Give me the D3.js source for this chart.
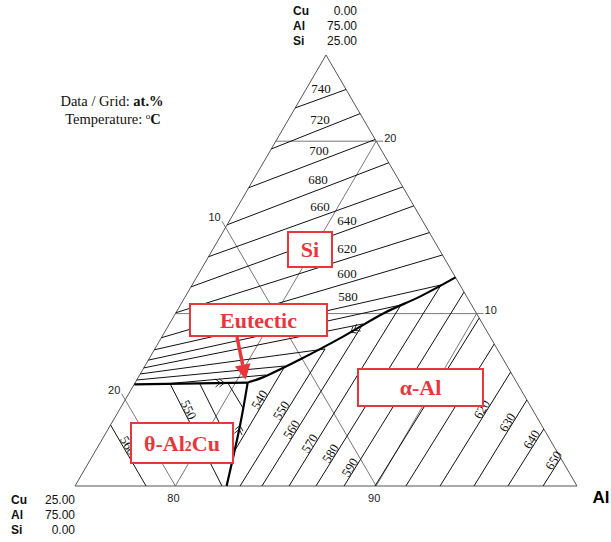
<!DOCTYPE html>
<html>
<head>
<meta charset="utf-8">
<script src="https://cdn.jsdelivr.net/npm/d3@7"></script>
<style>
  body { margin: 0; background: #fff; }
  svg { display: block; }
  .sans { font-family: "Liberation Sans", Arial, sans-serif; }
  .serif { font-family: "Liberation Serif", "Times New Roman", serif; }
</style>
</head>
<body>
<svg id="chart" width="611" height="542"></svg>
<script>
// compositions are at.% written as [Cu, Si]; Al is the rest (75..100)

const cornerTop = [['Cu', '0.00'], ['Al', '75.00'], ['Si', '25.00']];
const cornerLeft = [['Cu', '25.00'], ['Al', '75.00'], ['Si', '0.00']];

const siTicks = [10, 20];
const cuTicks = [10, 20];
const alTicks = [80, 90];

// thick two-phase valleys
const valleyAlSi = [[0, 12.1], [2.3, 11.0], [4.55, 10.05], [7.35, 8.65], [10.1, 7.35], [12.5, 6.3], [13.4, 6.0]];
const valleySiTheta = [[19.1, 5.9], [13.4, 6.0]];
const valleyAlTheta = [[13.4, 6.0], [15.0, 3.55], [17.45, 0]];

// liquidus isotherms, deg C
const siIsotherms = [
  { t: 740, pts: [[3.07, 21.93], [0, 23.0]] },
  { t: 720, pts: [[5.45, 19.55], [0, 21.6]] },
  { t: 700, pts: [[7.7, 17.3], [0, 20.1]] },
  { t: 680, pts: [[9.85, 15.15], [0, 18.75]] },
  { t: 660, pts: [[11.7, 13.3], [0, 17.35]] },
  { t: 640, pts: [[13.45, 11.55], [0, 16.25]] },
  { t: 620, pts: [[14.95, 10.05], [0, 14.7]] },
  { t: 600, pts: [[16.4, 8.6], [0, 13.4]] },
  { t: 580, pts: [[17.1, 7.9], [0.94, 11.66]] },
  { t: 570, pts: [[17.7, 7.3], [3.52, 10.5]] },
  { t: 560, pts: [[18.15, 6.85], [5.96, 9.4]] },
  { t: 550, pts: [[18.5, 6.5], [8.57, 7.95]] },
  { t: 540, pts: [[18.85, 6.15], [11.06, 6.96]] },
  { t: 530, pts: [[17.56, 5.92], [12.27, 6.44]] },
];
const alIsotherms = [
  { t: 540, pts: [[16.1, 1.97], [11.06, 6.96]] },
  { t: 550, pts: [[16.78, 0], [8.57, 7.95]] },
  { t: 560, pts: [[15.69, 0], [5.96, 9.4]] },
  { t: 570, pts: [[14.34, 0], [3.52, 10.5]] },
  { t: 580, pts: [[13.0, 0], [0.94, 11.66]] },
  { t: 590, pts: [[11.6, 0], [0, 11.25]] },
  { t: 600, pts: [[10.06, 0], [0, 9.74]] },
  { t: 610, pts: [[8.52, 0], [0, 8.24]] },
  { t: 620, pts: [[6.82, 0], [0, 6.61]] },
  { t: 630, pts: [[5.13, 0], [0, 4.99]] },
  { t: 640, pts: [[3.44, 0], [0, 3.31]] },
  { t: 650, pts: [[1.69, 0], [0, 1.62]] },
];
const thetaIsotherms = [
  { t: 560, pts: [[21.46, 3.54], [21.46, 0]] },
  { t: 550, pts: [[17.3, 5.92], [17.68, 0]] },
  { t: 540, pts: [[15.82, 5.92], [16.1, 1.97]] },
  { t: 530, pts: [[14.4, 5.97], [14.37, 4.52]] },
];

// where the numbers sit (screen layout only)
const siLabelX = { 740: 321, 720: 320, 700: 319, 680: 318, 660: 320, 640: 347, 620: 347, 600: 347, 580: 348 };
const alLabelY = { 540: 402, 550: 413, 560: 432, 570: 446, 580: 456, 590: 470, 620: 412, 630: 425, 640: 442, 650: 463 };
const thetaLabelY = { 560: 448, 550: 412 };

const boxes = [
  { x: 288, y: 232, w: 44, h: 35 },
  { x: 190, y: 304, w: 137, h: 32 },
  { x: 358, y: 369, w: 125, h: 37 },
  { x: 131, y: 423, w: 102, h: 40 },
];

const RED = '#e8373c';

const svg = d3.select('#chart');

const xAl = d3.scaleLinear().domain([75, 100]).range([75, 577]);
const ySi = d3.scaleLinear().domain([0, 25]).range([486, 55]);

// ternary -> screen (Si up, Al to the right)
function proj(c) {
  const cu = c[0];
  const si = c[1];
  const al = 100 - cu - si;
  return [xAl(al + si / 2), ySi(si)];
}

const line = d3.line()
  .x((d) => proj(d)[0])
  .y((d) => proj(d)[1])
  .curve(d3.curveCatmullRom);

function unit(a, b) {
  const dx = b[0] - a[0];
  const dy = b[1] - a[1];
  const l = Math.hypot(dx, dy);
  return [dx / l, dy / l];
}

function atY(pts, y) {
  const p = pts.map(proj);
  for (let i = 0; i < p.length - 1; i += 1) {
    const [a, b] = [p[i], p[i + 1]];
    if ((y - a[1]) * (y - b[1]) <= 0) {
      const f = (y - a[1]) / (b[1] - a[1]);
      return { x: a[0] + f * (b[0] - a[0]), y, u: unit(a, b) };
    }
  }
  return null;
}

function atX(pts, x) {
  const p = pts.map(proj);
  for (let i = 0; i < p.length - 1; i += 1) {
    const [a, b] = [p[i], p[i + 1]];
    if ((x - a[0]) * (x - b[0]) <= 0) {
      const f = (x - a[0]) / (b[0] - a[0]);
      return { x, y: a[1] + f * (b[1] - a[1]) };
    }
  }
  return null;
}

// grid
const gGrid = svg.append('g').attr('stroke', '#6a6a6a').attr('stroke-width', 0.9).attr('fill', 'none');
const gTick = svg.append('g').attr('class', 'sans').attr('font-size', 11).attr('fill', '#222');

siTicks.forEach((v) => {
  const a = proj([25 - v, v]);
  const b = proj([0, v]);
  gGrid.append('line').attr('x1', a[0]).attr('y1', a[1]).attr('x2', b[0] + 7).attr('y2', b[1]);
  gTick.append('text').attr('x', b[0] + 8).attr('y', b[1] - 3).attr('dy', '0.35em').text(v);
});
cuTicks.forEach((v) => {
  const a = proj([v, 25 - v]);
  const b = proj([v, 0]);
  const u = unit(b, a);
  gGrid.append('line').attr('x1', a[0] + u[0] * 7).attr('y1', a[1] + u[1] * 7).attr('x2', b[0]).attr('y2', b[1]);
  gTick.append('text').attr('x', a[0] - 11).attr('y', a[1] - 10)
    .attr('text-anchor', 'middle').attr('dy', '0.35em').text(v);
});
alTicks.forEach((v) => {
  const a = proj([100 - v, 0]);
  const b = proj([0, 100 - v]);
  gGrid.append('line').attr('x1', a[0]).attr('y1', a[1]).attr('x2', b[0]).attr('y2', b[1]);
  gTick.append('text').attr('x', a[0] - 2).attr('y', a[1] + 12)
    .attr('text-anchor', 'middle').attr('dy', '0.35em').text(v);
});

// triangle frame
const frame = [[25, 0], [0, 0], [0, 25]].map(proj);
svg.append('path')
  .attr('d', `M${frame.join('L')}Z`)
  .attr('fill', 'none').attr('stroke', '#555').attr('stroke-width', 1);

// isotherms
const gIso = svg.append('g').attr('fill', 'none').attr('stroke', '#111').attr('stroke-width', 1);
[siIsotherms, alIsotherms, thetaIsotherms].forEach((set) => {
  gIso.selectAll(null).data(set).enter().append('path').attr('d', (d) => line(d.pts));
});

// isotherm numbers
const gLab = svg.append('g').attr('class', 'serif').attr('font-size', 13).attr('fill', '#111');
siIsotherms.filter((d) => siLabelX[d.t]).forEach((d) => {
  const p = atX(d.pts, siLabelX[d.t]);
  gLab.append('text').attr('x', p.x).attr('y', p.y - 10)
    .attr('text-anchor', 'middle').attr('dy', '0.35em').text(d.t);
});

function rotatedLabel(d, y, up) {
  const p = atY(d.pts, y);
  let u = p.u;
  if ((up && u[1] > 0) || (!up && u[1] < 0)) u = [-u[0], -u[1]];
  const n = [u[1], -u[0]];
  const cx = p.x + n[0] * 5;
  const cy = p.y + n[1] * 5;
  const ang = (Math.atan2(u[1], u[0]) * 180) / Math.PI;
  gLab.append('text')
    .attr('transform', `translate(${cx},${cy}) rotate(${ang})`)
    .attr('text-anchor', 'middle').attr('dy', '0.35em').text(d.t);
}
alIsotherms.filter((d) => alLabelY[d.t]).forEach((d) => rotatedLabel(d, alLabelY[d.t], true));
thetaIsotherms.filter((d) => thetaLabelY[d.t]).forEach((d) => rotatedLabel(d, thetaLabelY[d.t], false));

// valleys
const gVal = svg.append('g').attr('fill', 'none').attr('stroke', '#000').attr('stroke-width', 2.2);
const valleyPaths = [valleyAlSi, valleySiTheta, valleyAlTheta.slice().reverse()].map((v) =>
  gVal.append('path').attr('d', line(v)).attr('stroke-linejoin', 'round').node());

// double chevrons pointing toward the eutectic
const chevAt = [0.49, 0.76, 0.55];
const gChev = svg.append('g').attr('fill', 'none').attr('stroke', '#111').attr('stroke-width', 0.9);
valleyPaths.forEach((node, i) => {
  const L = node.getTotalLength();
  const p0 = node.getPointAtLength(L * chevAt[i]);
  const p1 = node.getPointAtLength(L * chevAt[i] + 1);
  const u = unit([p0.x, p0.y], [p1.x, p1.y]);
  const n = [-u[1], u[0]];
  [0, 4].forEach((k) => {
    const t = [p0.x + u[0] * k, p0.y + u[1] * k];
    const a = [t[0] - u[0] * 5 + n[0] * 4, t[1] - u[1] * 5 + n[1] * 4];
    const b = [t[0] - u[0] * 5 - n[0] * 4, t[1] - u[1] * 5 - n[1] * 4];
    gChev.append('path').attr('d', `M${a}L${t}L${b}`);
  });
});

// labelled boxes
const gBox = svg.append('g');
boxes.forEach((b) => {
  gBox.append('rect').attr('x', b.x).attr('y', b.y).attr('width', b.w).attr('height', b.h)
    .attr('fill', '#fff').attr('stroke', RED).attr('stroke-width', 2);
});
const boxText = gBox.append('g').attr('class', 'serif').attr('fill', RED)
  .attr('font-weight', 'bold').attr('font-size', 22).attr('text-anchor', 'middle');
const cxy = (b) => [b.x + b.w / 2, b.y + b.h / 2];
boxText.append('text').attr('x', cxy(boxes[0])[0]).attr('y', cxy(boxes[0])[1]).attr('dy', '0.35em').text('Si');
boxText.append('text').attr('x', cxy(boxes[1])[0]).attr('y', cxy(boxes[1])[1]).attr('dy', '0.35em').text('Eutectic');
boxText.append('text').attr('x', cxy(boxes[2])[0]).attr('y', cxy(boxes[2])[1]).attr('dy', '0.35em').text('α-Al');
const th = boxText.append('text').attr('x', cxy(boxes[3])[0]).attr('y', cxy(boxes[3])[1]).attr('dy', '0.35em');
th.append('tspan').text('θ-Al');
th.append('tspan').attr('font-size', 14).text('2');
th.append('tspan').text('Cu');

// arrow from the Eutectic box to the ternary eutectic
const E = proj(valleyAlSi[valleyAlSi.length - 1]);
const tip = [E[0] - 2, E[1] - 3];
const start = [237, 337];
const ua = unit(start, tip);
const na = [-ua[1], ua[0]];
const base = [tip[0] - ua[0] * 15, tip[1] - ua[1] * 15];
svg.append('line').attr('x1', start[0]).attr('y1', start[1]).attr('x2', base[0]).attr('y2', base[1])
  .attr('stroke', RED).attr('stroke-width', 3.5);
svg.append('path')
  .attr('d', `M${tip}L${[base[0] + na[0] * 8, base[1] + na[1] * 8]}L${[base[0] - na[0] * 8, base[1] - na[1] * 8]}Z`)
  .attr('fill', RED);

// corner compositions
function cornerBlock(rows, x, y) {
  const g = svg.append('g').attr('class', 'sans').attr('font-size', 12).attr('fill', '#111');
  rows.forEach((r, i) => {
    g.append('text').attr('x', x).attr('y', y + i * 15).attr('font-weight', 'bold').text(r[0]);
    g.append('text').attr('x', x + 64).attr('y', y + i * 15).attr('text-anchor', 'end').text(r[1]);
  });
}
cornerBlock(cornerTop, 293, 15);
cornerBlock(cornerLeft, 11, 504);

svg.append('text').attr('class', 'sans').attr('x', 601).attr('y', 503)
  .attr('font-size', 17).attr('font-weight', 'bold').attr('text-anchor', 'middle').text('Al');

// units note
const note = svg.append('g').attr('class', 'serif').attr('font-size', 14.5).attr('fill', '#111')
  .attr('text-anchor', 'middle');
const n1 = note.append('text').attr('x', 112).attr('y', 106);
n1.append('tspan').text('Data / Grid: ');
n1.append('tspan').attr('font-weight', 'bold').text('at.%');
const n2 = note.append('text').attr('x', 113).attr('y', 124);
n2.append('tspan').text('Temperature: ');
n2.append('tspan').attr('font-size', 9).attr('dy', -5).text('o');
n2.append('tspan').attr('font-weight', 'bold').attr('dy', 5).text('C');
</script>
</body>
</html>
